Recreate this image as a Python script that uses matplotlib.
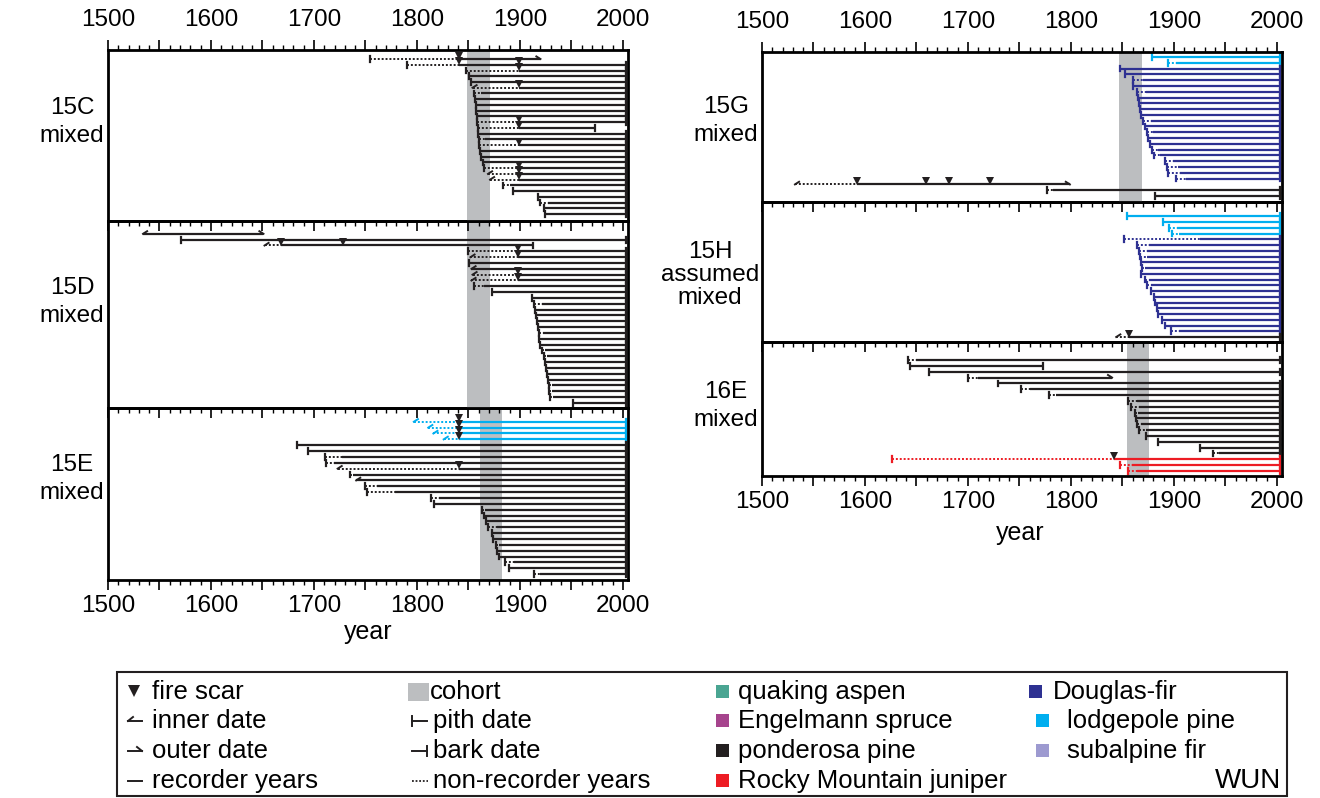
import matplotlib
matplotlib.use("Agg")
import matplotlib.pyplot as plt
from matplotlib.ticker import MultipleLocator, FuncFormatter
from matplotlib.patches import Rectangle

plt.rcParams['font.family'] = ['Liberation Sans', 'DejaVu Sans']

# ---------------------------------------------------------------------------
# Tree records per site.  One entry per tree (top to bottom):
#   *_first : first year of the record (pith or inner ring)
#   *_skind : 'p' = pith date, 'i' = inner date
#   *_rec   : first recorder year (non-recorder years before it)
#   *_last  : last year of the record
#   *_ekind : 'b' = bark date, 'o' = outer date
#   *_sp    : species code
#   *_scars : fire scar years
# ---------------------------------------------------------------------------

# 15C mixed
c15_first = [1754, 1790, 1848, 1851, 1853, 1854, 1855, 1856, 1857, 1857, 1858, 1858, 1859, 1859,
             1860, 1860, 1861, 1862, 1864, 1865, 1869, 1871, 1884, 1893, 1918, 1920, 1923, 1924]
c15_skind = "pppppippppppppppppppiipppppp"
c15_rec = [1841, 1841, 1899, 1851, 1853, 1899, 1862, 1856, 1857, 1857, 1858, 1899, 1899, 1859,
           1866, 1899, 1861, 1862, 1864, 1899, 1899, 1899, 1890, 1893, 1918, 1927, 1923, 1924]
c15_last = [1920, 2003, 2003, 2003, 2003, 2003, 2003, 2003, 2003, 2003, 2003, 2003, 1973, 2003,
            2003, 2003, 2003, 2003, 2003, 2003, 2003, 2003, 2003, 2003, 2003, 2003, 2003, 2003]
c15_ekind = "obbbbbbbbbbbbbbbbbbbbbbbbbbb"
c15_sp = "P" * 28
c15_scars = [[1841], [1841, 1899], [1899], [], [], [1899], [], [], [], [], [], [1899], [1899], [],
             [], [1899], [], [], [], [1899], [1899], [1899], [], [], [], [], [], []]

# 15D mixed
d15_first = [1534, 1571, 1652, 1850, 1852, 1851, 1853, 1854, 1853, 1855, 1873, 1912, 1914, 1915, 1916,
             1917, 1918, 1919, 1919, 1920, 1921, 1923, 1924, 1925, 1926, 1927, 1928, 1928, 1929, 1952]
d15_skind = "ipipipiiippppppppppppppppppppp"
d15_rec = [1534, 1571, 1668, 1898, 1898, 1851, 1853, 1898, 1898, 1865, 1873, 1912, 1921, 1915, 1916,
           1917, 1918, 1922, 1919, 1920, 1924, 1926, 1924, 1925, 1926, 1927, 1931, 1931, 1932, 1952]
d15_last = [1651, 2003, 1913] + [2003] * 27
d15_ekind = "o" + "b" * 29
d15_sp = "P" * 30
d15_scars = [[], [], [1668, 1728], [1898], [1898], [], [], [1898], [1898], [], [], [], [], [], [],
             [], [], [], [], [], [], [], [], [], [], [], [], [], [], []]

# 15E mixed
e15_first = [1797, 1811, 1816, 1826, 1684, 1694, 1711, 1712, 1723, 1735, 1741, 1750, 1752, 1814,
             1817, 1863, 1865, 1867, 1869, 1873, 1874, 1877, 1878, 1880, 1886, 1889, 1914]
e15_skind = "iiiippppipippppppppppppppppp"[:27]
e15_rec = [1841, 1841, 1841, 1841, 1684, 1694, 1727, 1719, 1841, 1738, 1741, 1761, 1779, 1821,
           1817, 1866, 1865, 1867, 1878, 1873, 1874, 1880, 1878, 1880, 1894, 1889, 1920]
e15_last = [2003] * 27
e15_ekind = "b" * 27
e15_sp = "LLLL" + "P" * 23
e15_scars = [[1841], [1841], [1841], [1841], [], [], [], [], [1841], [], [], [], [], [],
             [], [], [], [], [], [], [], [], [], [], [], [], []]

# 15G mixed
g15_first = [1879, 1894, 1848, 1853, 1860, 1860, 1864, 1865, 1866, 1867, 1868, 1870, 1872,
             1874, 1875, 1877, 1879, 1881, 1891, 1893, 1894, 1902, 1532, 1777, 1882]
g15_skind = "p" * 22 + "ipp"
g15_rec = [1879, 1902, 1848, 1853, 1870, 1860, 1873, 1865, 1866, 1867, 1868, 1878, 1872,
           1880, 1875, 1877, 1885, 1887, 1899, 1904, 1906, 1912, 1592, 1783, 1882]
g15_last = [2003] * 22 + [1799, 2003, 2003]
g15_ekind = "b" * 22 + "obb"
g15_sp = "LL" + "D" * 20 + "PPP"
g15_scars = [[] for _ in range(22)] + [[1592, 1659, 1682, 1721], [], []]

# 15H assumed mixed
h15_first = [1854, 1889, 1895, 1898, 1852, 1864, 1866, 1867, 1868, 1869, 1868, 1872, 1874,
             1878, 1881, 1882, 1884, 1885, 1888, 1891, 1897, 1844]
h15_skind = "p" * 21 + "i"
h15_rec = [1854, 1889, 1903, 1905, 1925, 1876, 1874, 1874, 1868, 1872, 1868, 1876, 1878,
           1878, 1881, 1882, 1884, 1885, 1888, 1891, 1905, 1856]
h15_last = [2003] * 22
h15_ekind = "b" * 22
h15_sp = "LLLL" + "D" * 17 + "P"
h15_scars = [[] for _ in range(21)] + [[1856]]

# 16E mixed
e16_first = [1642, 1644, 1662, 1700, 1729, 1752, 1779, 1855, 1858, 1862, 1863, 1864, 1866,
             1873, 1885, 1925, 1938, 1626, 1848, 1855]
e16_skind = "p" * 20
e16_rec = [1650, 1644, 1662, 1710, 1729, 1760, 1786, 1864, 1866, 1865, 1863, 1868, 1873,
           1873, 1885, 1925, 1944, 1842, 1859, 1864]
e16_last = [2003, 1773, 2003, 1840] + [2003] * 16
e16_ekind = "bbbo" + "b" * 16
e16_sp = "P" * 17 + "JJJ"
e16_scars = [[] for _ in range(17)] + [[1842], [], []]

# cohort periods (start, end)
cohort_15C = (1849, 1871)
cohort_15D = (1849, 1871)
cohort_15E = (1861, 1883)
cohort_15G = (1847, 1869)
cohort_16E = (1854, 1876)

species_colors = {
    "A": "#4aa592",   # quaking aspen
    "E": "#a6448d",   # Engelmann spruce
    "P": "#231f20",   # ponderosa pine
    "J": "#ed1c24",   # Rocky Mountain juniper
    "D": "#2e3192",   # Douglas-fir
    "L": "#00aeef",   # lodgepole pine
    "S": "#9d9ad0",   # subalpine fir
}
SCAR_COLOR = "#231f20"
COHORT_COLOR = "#bcbec0"
DOTS = (0, (1.0, 1.0))

W, H = 1320, 798
fig = plt.figure(figsize=(W / 100, H / 100), dpi=100)


def add_panel(x0, x1, y0, y1):
    return fig.add_axes([x0 / W, 1 - y1 / H, (x1 - x0) / W, (y1 - y0) / H], facecolor="none")


def draw_site(ax, first, skind, rec, last, ekind, sp, scars, cohort, pad_top, pad_bot):
    n = len(first)
    if cohort is not None:
        ax.axvspan(cohort[0], cohort[1], color=COHORT_COLOR, lw=0, zorder=0)
    for i in range(n):
        col = species_colors[sp[i]]
        if rec[i] > first[i]:
            ax.plot([first[i], rec[i]], [i, i], color=col, lw=1.4,
                    ls=DOTS, solid_capstyle="butt", zorder=2)
        ax.plot([rec[i], last[i]], [i, i], color=col, lw=1.6, solid_capstyle="butt", zorder=2)
        # start of record
        if skind[i] == "p":
            ax.plot([first[i]] * 2, [i - 0.5, i + 0.5], color=col, lw=1.6, zorder=2)
        else:
            ax.plot([first[i], first[i] + 4], [i, i - 0.45], color=col, lw=1.4, zorder=2)
        # end of record
        if ekind[i] == "b":
            ax.plot([last[i]] * 2, [i - 0.5, i + 0.5], color=col, lw=1.6, zorder=2)
        else:
            ax.plot([last[i], last[i] - 4], [i, i - 0.45], color=col, lw=1.4, zorder=2)
        if scars[i]:
            ax.plot(scars[i], [i - 0.6] * len(scars[i]), "v", color=SCAR_COLOR,
                    ms=6.3, mew=0, zorder=3)
    ax.set_xlim(1500, 2005)
    ax.set_ylim(n - 1 + pad_bot, -pad_top)
    ax.set_yticks([])
    ax.xaxis.set_major_locator(MultipleLocator(50))
    ax.xaxis.set_minor_locator(MultipleLocator(10))
    ax.xaxis.set_major_formatter(FuncFormatter(lambda v, p: f"{v:.0f}" if v % 100 == 0 else ""))
    ax.tick_params(axis="x", which="major", length=7.5, width=1.2, direction="out",
                   labelsize=17.5, pad=3)
    ax.tick_params(axis="x", which="minor", length=3.5, width=1.0, direction="out")
    for s in ax.spines.values():
        s.set_linewidth(2.0)


def set_ticks(ax, top, labeltop, labelbottom):
    ax.tick_params(axis="x", which="both", top=top, bottom=True,
                   labeltop=labeltop, labelbottom=labelbottom)
    if labeltop:
        ax.tick_params(axis="x", which="major", pad=6)


LX0, LX1 = 108, 628
RX0, RX1 = 762, 1282

# panels created bottom-up so the ticks of upper panels are drawn on top
ax_15E = add_panel(LX0, LX1, 408, 580)
ax_15D = add_panel(LX0, LX1, 221, 408)
ax_15C = add_panel(LX0, LX1, 50, 221)
ax_16E = add_panel(RX0, RX1, 342, 476)
ax_15H = add_panel(RX0, RX1, 202, 342)
ax_15G = add_panel(RX0, RX1, 52, 202)

draw_site(ax_15C, c15_first, c15_skind, c15_rec, c15_last, c15_ekind, c15_sp, c15_scars, cohort_15C, 1.57, 1.2)
draw_site(ax_15D, d15_first, d15_skind, d15_rec, d15_last, d15_ekind, d15_sp, d15_scars, cohort_15D, 2.2, 0.86)
draw_site(ax_15E, e15_first, e15_skind, e15_rec, e15_last, e15_ekind, e15_sp, e15_scars, cohort_15E, 2.35, 1.0)
draw_site(ax_15G, g15_first, g15_skind, g15_rec, g15_last, g15_ekind, g15_sp, g15_scars, cohort_15G, 0.86, 1.04)
draw_site(ax_15H, h15_first, h15_skind, h15_rec, h15_last, h15_ekind, h15_sp, h15_scars, None, 2.5, 0.87)
draw_site(ax_16E, e16_first, e16_skind, e16_rec, e16_last, e16_ekind, e16_sp, e16_scars, cohort_16E, 3.1, 0.86)

set_ticks(ax_15C, True, True, False)
set_ticks(ax_15D, False, False, False)
set_ticks(ax_15E, False, False, True)
set_ticks(ax_15G, True, True, False)
set_ticks(ax_15H, False, False, False)
set_ticks(ax_16E, False, False, True)

# overlay for labels and legend, in pixel coordinates
ov = fig.add_axes([0, 0, 1, 1], facecolor="none", zorder=10)
ov.set_xlim(0, W)
ov.set_ylim(H, 0)
ov.axis("off")

site_labels = ["15C\nmixed", "15D\nmixed", "15E\nmixed", "15G\nmixed", "15H\nassumed\nmixed", "16E\nmixed"]
label_pos = [(72, 122), (72, 302), (72, 479), (726, 121), (710, 275), (726, 406)]
label_ls = [1.3, 1.3, 1.3, 1.3, 1.05, 1.3]
for txt, (x, y), ls in zip(site_labels, label_pos, label_ls):
    ov.text(x, y, txt, ha="center", va="center", fontsize=17.5, linespacing=ls)

ov.text(368, 632, "year", ha="center", va="center", fontsize=18)
ov.text(1020, 533, "year", ha="center", va="center", fontsize=18)

# legend
ov.add_patch(Rectangle((117, 672), 1170, 124, fill=False, lw=1.5, ec="#231f20"))
rows_y = [692, 721, 751, 781]
k = "#231f20"
LFS = 18.5
# column 1
ov.plot([134], [rows_y[0] - 1], "v", color=k, ms=8, mew=0)
ov.plot([128, 142], [rows_y[1], rows_y[1]], color=k, lw=1.4)
ov.plot([128, 133], [rows_y[1], rows_y[1] - 4], color=k, lw=1.4)
ov.plot([128, 142], [rows_y[2], rows_y[2]], color=k, lw=1.4)
ov.plot([142, 137], [rows_y[2], rows_y[2] - 4], color=k, lw=1.4)
ov.plot([128, 142], [rows_y[3], rows_y[3]], color=k, lw=1.4)
for y, t in zip(rows_y, ["fire scar", "inner date", "outer date", "recorder years"]):
    ov.text(152, y, t, ha="left", va="center", fontsize=LFS)
# column 2
ov.add_patch(Rectangle((408, 683), 21, 18, color=COHORT_COLOR, lw=0))
ov.plot([412, 427], [rows_y[1], rows_y[1]], color=k, lw=1.4)
ov.plot([412, 412], [rows_y[1] - 5, rows_y[1] + 5], color=k, lw=1.4)
ov.plot([412, 427], [rows_y[2], rows_y[2]], color=k, lw=1.4)
ov.plot([427, 427], [rows_y[2] - 5, rows_y[2] + 5], color=k, lw=1.4)
ov.plot([412, 428], [rows_y[3], rows_y[3]], color=k, lw=1.3, ls=DOTS)
ov.text(430, rows_y[0], "cohort", ha="left", va="center", fontsize=LFS)
for y, t in zip(rows_y[1:], ["pith date", "bark date", "non-recorder years"]):
    ov.text(433, y, t, ha="left", va="center", fontsize=LFS)
# column 3
for y, code, t in zip(rows_y, "AEPJ", ["quaking aspen", "Engelmann spruce", "ponderosa pine",
                                        "Rocky Mountain juniper"]):
    ov.add_patch(Rectangle((716, y - 7), 13, 13, color=species_colors[code], lw=0))
    ov.text(738, y, t, ha="left", va="center", fontsize=LFS)
# column 4
for y, code, sx, tx, t in zip(rows_y, "DLS", [1029, 1036, 1036], [1053, 1067, 1067],
                              ["Douglas-fir", "lodgepole pine", "subalpine fir"]):
    ov.add_patch(Rectangle((sx, y - 7), 13, 13, color=species_colors[code], lw=0))
    ov.text(tx, y, t, ha="left", va="center", fontsize=LFS)
ov.text(1281, 781, "WUN", ha="right", va="center", fontsize=20)

fig.savefig("out.png", dpi=100)
